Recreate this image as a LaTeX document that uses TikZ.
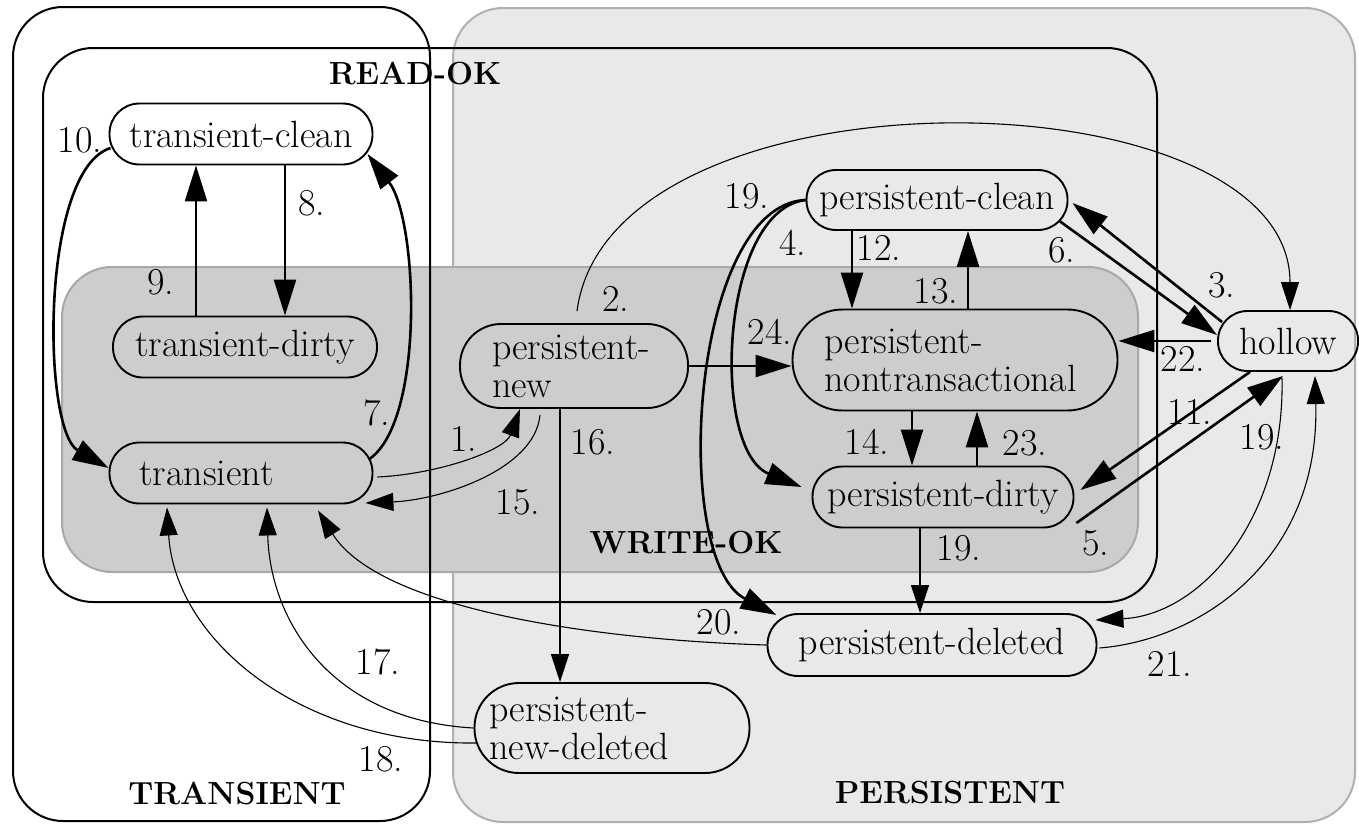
\documentclass[tikz,border=0pt]{standalone}
\usetikzlibrary{arrows.meta,calc}
\definecolor{pgray}{HTML}{E9E9E9}
\definecolor{pline}{HTML}{B0B0B0}
\definecolor{wgray}{HTML}{CDCDCD}
\definecolor{wline}{HTML}{A8A8A8}
\begin{document}
\begin{tikzpicture}[x=1pt,y=-1pt,
  lab/.style={font=\fontsize{38}{38}\selectfont, inner sep=0pt},
  ttl/.style={font=\fontsize{32}{34}\selectfont\bfseries, inner sep=0pt},
  st/.style={draw, line width=1.9pt, inner sep=0pt, font=\fontsize{38}{38}\selectfont},
  region/.style={line width=2pt, rounded corners=50pt},
  bigarr/.style={line width=2.6pt, -{Triangle[length=36pt,width=22pt]}},
  thinarr/.style={line width=1.1pt, -{Triangle[length=28pt,width=18pt]}},
]
\useasboundingbox (0,0) rectangle (1359,825);
% regions
\draw[region, fill=pgray, draw=pline] (453,8) rectangle (1355,822);
\draw[region, fill=wgray, draw=wline] (62,267) rectangle (1138,572);
\draw[region] (13,7) rectangle (430,821);
\draw[region] (43,48) rectangle (1157,602);
\node[ttl] (readok) at (415,73) {READ-OK};
\node[ttl] (writeok) at (686,543) {WRITE-OK};
\node[ttl] (transL) at (237,793) {TRANSIENT};
\node[ttl] (persL) at (950,793) {PERSISTENT};
% states
\node[st, minimum width=263pt, minimum height=61pt, rounded corners=30pt] (tc) at (241,134) {transient-clean};
\node[st, minimum width=264pt, minimum height=61pt, rounded corners=30pt] (td) at (245,347) {transient-dirty};
\node[st, minimum width=263pt, minimum height=61pt, rounded corners=30pt, text width=203pt, align=left, inner xsep=30pt] (tr) at (241,473) {transient};
\node[st, minimum width=228pt, minimum height=84pt, rounded corners=41pt, text width=164pt, align=left, inner xsep=32pt] (pn) at (574,366) {persistent-\\new};
\node[st, minimum width=325pt, minimum height=101pt, rounded corners=50pt, text width=261pt, align=left, inner xsep=32pt] (pnt) at (955,360) {persistent-\\nontransactional};
\node[st, minimum width=261pt, minimum height=60pt, rounded corners=29.5pt] (pc) at (937,200) {persistent-clean};
\node[st, minimum width=261pt, minimum height=61pt, rounded corners=30pt] (pd) at (943,497) {persistent-dirty};
\node[st, minimum width=140pt, minimum height=60pt, rounded corners=29.5pt] (ho) at (1288,341) {hollow};
\node[st, minimum width=329pt, minimum height=62pt, rounded corners=30.5pt] (pdel) at (932,645) {persistent-deleted};
\node[st, minimum width=275pt, minimum height=90pt, rounded corners=44.5pt, text width=245pt, align=left, inner xsep=15pt] (pnd) at (612,728) {persistent-\\new-deleted};
% transitions
\draw[bigarr] ([xshift=44pt]tc.south) -- ([xshift=40pt]td.north);
\draw[bigarr] ([xshift=-49pt]td.north) -- ([xshift=-45pt]tc.south);
\draw[bigarr] ([shift={(-4pt,14pt)}]tr.east) .. controls (425,420) and (418,220) .. ([shift={(-6pt,-20pt)}]tc.east);
\draw[bigarr] ([shift={(2pt,-14pt)}]tc.west) .. controls (40,170) and (42,430) .. ([yshift=5pt]tr.west);
\draw[thinarr] ([shift={(4pt,-4pt)}]tr.east) .. controls (440,474) and (505,450) .. ([xshift=-54pt]pn.south);
\draw[thinarr] ([shift={(-34pt,-6pt)}]pn.south) .. controls (535,470) and (440,500) .. ([shift={(-8pt,-30pt)}]tr.east);
\draw[thinarr] ([xshift=-14pt]pn.south) -- ([xshift=-52pt]pnd.north);
\draw[thinarr] (pnd.west) .. controls (330,720) and (270,620) .. ([shift={(26pt,-3pt)}]tr.south);
\draw[thinarr] ([shift={(3pt,-15pt)}]pnd.west) .. controls (300,745) and (175,640) .. ([shift={(-74pt,-3pt)}]tr.south);
\draw[thinarr] (pdel.west) .. controls (600,640) and (380,610) .. ([shift={(77pt,-6pt)}]tr.south);
\draw[thinarr] ([shift={(3pt,12pt)}]pn.north) .. controls (610,60) and (1290,70) .. ([xshift=2pt]ho.north);
\draw[bigarr] (pn.east) -- (pn.east -| pnt.west);
\draw[bigarr] ([xshift=-85pt]pc.south) -- ([xshift=-103pt]pnt.north);
\draw[bigarr] ([xshift=13pt]pnt.north) -- ([xshift=31pt]pc.south);
\draw[bigarr] ([xshift=-43pt]pnt.south) -- ([xshift=-31pt]pd.north);
\draw[bigarr] ([xshift=34pt]pd.north) -- ([xshift=22pt]pnt.south);
\draw[bigarr] ([xshift=-6pt]ho.west) -- (ho.west -| pnt.east);
\draw[bigarr] ([shift={(5pt,19pt)}]ho.west) -- ([shift={(4pt,-3pt)}]pc.east);
\draw[bigarr] ([shift={(-9pt,-21pt)}]pc.east) -- ([yshift=6pt]ho.west);
\draw[bigarr] ([xshift=-38pt]ho.south) -- ([shift={(6pt,7pt)}]pd.east);
\draw[bigarr] ([shift={(2pt,-26pt)}]pd.east) -- ([shift={(-5pt,-4pt)}]ho.south);
\draw[bigarr] (pc.west) .. controls (720,210) and (710,450) .. ([shift={(-10pt,10pt)}]pd.west);
\draw[bigarr] (pc.west) .. controls (690,205) and (670,560) .. ([shift={(10pt,30pt)}]pdel.west);
\draw[thinarr] ([xshift=-23pt]pd.south) -- ([xshift=-12pt]pdel.north);
\draw[thinarr] ([shift={(-6pt,-6pt)}]ho.south) .. controls (1285,520) and (1200,615) .. ([shift={(-2pt,25pt)}]pdel.east);
\draw[thinarr] ([shift={(2pt,-3pt)}]pdel.east) .. controls (1200,640) and (1320,560) .. ([shift={(27pt,-4pt)}]ho.south);
% transition labels
\node[lab] (l10) at (80,140) {10.};
\node[lab] (l8) at (312,203) {8.};
\node[lab] (l9) at (161,282) {9.};
\node[lab] (l7) at (377,413) {7.};
\node[lab] (l1) at (464,439) {1.};
\node[lab] (l15) at (518,502) {15.};
\node[lab] (l16) at (593,442) {16.};
\node[lab] (l2) at (616,299) {2.};
\node[lab] (l24) at (770,332) {24.};
\node[lab] (l19a) at (747,196) {19.};
\node[lab] (l4) at (793,243) {4.};
\node[lab] (l12) at (879,248) {12.};
\node[lab] (l13) at (936,291) {13.};
\node[lab] (l6) at (1062,250) {6.};
\node[lab] (l3) at (1222,285) {3.};
\node[lab] (l22) at (1183,359) {22.};
\node[lab] (l11) at (1190,412) {11.};
\node[lab] (l19b) at (1262,437) {19.};
\node[lab] (l14) at (867,442) {14.};
\node[lab] (l23) at (1025,443) {23.};
\node[lab] (l5) at (1096,543) {5.};
\node[lab] (l19c) at (959,548) {19.};
\node[lab] (l20) at (719,622) {20.};
\node[lab] (l21) at (1170,664) {21.};
\node[lab] (l17) at (378,662) {17.};
\node[lab] (l18) at (381,759) {18.};
\end{tikzpicture}
\end{document}
